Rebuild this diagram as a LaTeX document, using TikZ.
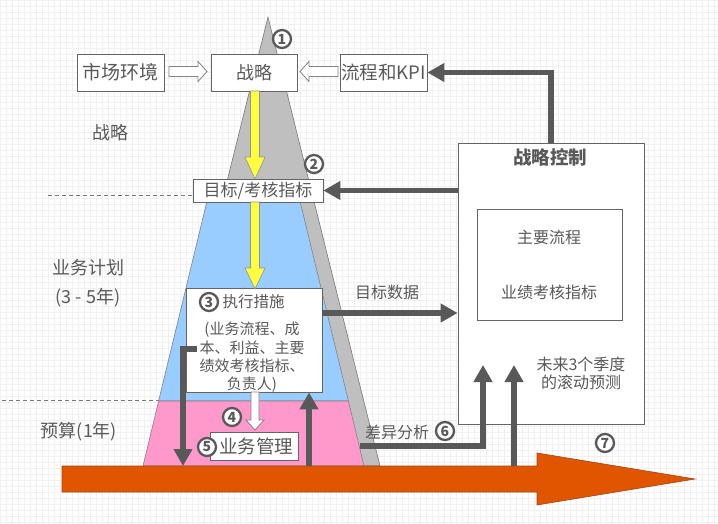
\documentclass[tikz,border=0pt]{standalone}
\usepackage{fontspec}
\setmainfont{Noto Sans CJK SC}
\usetikzlibrary{arrows.meta}
\definecolor{txt}{RGB}{89,89,89}
\definecolor{bd}{RGB}{100,100,100}
\definecolor{dk}{RGB}{89,89,89}
\definecolor{tri}{RGB}{191,191,191}
\definecolor{trid}{RGB}{120,120,120}
\definecolor{blu}{RGB}{153,204,255}
\definecolor{pnk}{RGB}{255,153,204}
\definecolor{yel}{RGB}{255,255,64}
\definecolor{org}{RGB}{224,86,0}
\definecolor{orgd}{RGB}{160,70,20}
\definecolor{gridc}{RGB}{240,240,240}
\newcommand{\fs}[1]{\fontsize{#1}{#1}\selectfont}
\begin{document}
\begin{tikzpicture}[x=1pt,y=-1pt,
  box/.style={draw=bd, fill=white, line width=0.8pt, inner sep=0pt, text=txt},
  lbl/.style={text=txt, inner sep=0pt},
  num/.style={circle, draw=dk, line width=2.3pt, fill=white, inner sep=0pt, minimum size=18pt, text=dk, font=\fs{14}\bfseries},
  fat/.style={draw=dk, line width=5.5pt, -{Triangle[length=17pt,width=18pt]}},
  hollow/.style={draw=bd!80, fill=white, line width=0.8pt, line join=miter},
  yelarrow/.style={draw=bd!70, fill=yel, line width=0.6pt},
  dashline/.style={draw=trid, line width=0.7pt, dash pattern=on 4pt off 3pt},
]
\useasboundingbox (0,0) rectangle (718,524);
\fill[white] (0,0) rectangle (718,524);
\foreach \i in {0,6,...,714} \draw[gridc, line width=0.4pt] (\i,0) -- (\i,524);
\foreach \j in {0,6,...,522} \draw[gridc, line width=0.4pt] (0,\j) -- (718,\j);

% pyramid
\filldraw[fill=tri, draw=trid, line width=0.6pt] (268,17) -- (380,466) -- (156,466) -- cycle;
\filldraw[fill=blu, draw=bd!80, line width=0.6pt] (209.2,192) -- (297.8,192) -- (348.4,401) -- (158.6,401) -- cycle;
\filldraw[fill=pnk, draw=bd!80, line width=0.6pt] (158.6,401) -- (348.4,401) -- (364,466) -- (143,466) -- cycle;

% dashed separators
\coordinate (d1) at (48,195);
\coordinate (d2) at (2,400);
\coordinate (d3) at (158,400);
\draw[dashline] (d2) -- (d3);

% big orange arrow
\filldraw[fill=org, draw=orgd, line width=0.6pt] (62,466) -- (537,466) -- (537,453) -- (695,479) -- (537,505) -- (537,492) -- (62,492) -- cycle;

% top row
\node[box, minimum width=87pt, minimum height=37pt, font=\fs{19}] (mkt) at (120.5,72.5) {市场环境};
\node[box, minimum width=86pt, minimum height=37pt, font=\fs{18}] (zl) at (254,72.5) {战略};
\node[box, minimum width=87pt, minimum height=37pt, font=\fs{18.5}] (kpi) at (383.5,72.5) {流程和KPI};
\draw[hollow] (169,66.5) -- (198,66.5) -- (198,61.5) -- (207,71.5) -- (198,81.5) -- (198,76.5) -- (169,76.5) -- cycle;
\draw[hollow] (338,66.5) -- (309,66.5) -- (309,61.5) -- (300,71.5) -- (309,81.5) -- (309,76.5) -- (338,76.5) -- cycle;

% target box
\draw[dashline] (d1) -- (193,195);
\node[box, minimum width=130pt, minimum height=23pt, font=\fs{17}] (mb) at (258,190.5) {目标/考核指标};

% measures box
\node[box, minimum width=136pt, minimum height=104pt] (zx) at (254,340) {};
\node[lbl, font=\fs{15.5}] (zxt) at (253.5,302) {执行措施};
\node[lbl, font=\fs{15}, align=center] (zxd) at (252,357) {(业务流程、成\\[3pt]本、利益、主要\\[3pt]绩效考核指标、\\[3pt]负责人)};

% business management
\node[box, minimum width=88pt, minimum height=28pt, font=\fs{18.5}] (yw) at (254,446) {\hspace*{4pt}业务管理};

% strategy control
\node[box, minimum width=186pt, minimum height=281pt] (sc) at (551,283.5) {};
\node[lbl, font=\fs{18.5}\bfseries] (sct) at (550,157) {战略控制};
\node[box, minimum width=145pt, minimum height=111pt] (in) at (549.5,264.5) {};
\node[lbl, font=\fs{16}] (in1) at (549,237) {主要流程};
\node[lbl, font=\fs{16}] (in2) at (549,292) {业绩考核指标};
\node[lbl, font=\fs{16}, align=center] (fc) at (581,373) {未来3个季度\\[2pt]的滚动预测};

% yellow and white arrows
\draw[yelarrow] (250.5,91) -- (259.5,91) -- (259.5,157) -- (265,157) -- (255,179) -- (245,157) -- (250.5,157) -- cycle;
\draw[yelarrow] (250.5,202) -- (259.5,202) -- (259.5,268) -- (265,268) -- (255,289) -- (245,268) -- (250.5,268) -- cycle;
\draw[hollow] (251,392) -- (259,392) -- (259,420) -- (264,420) -- (255,430) -- (246,420) -- (251,420) -- cycle;

% left labels
\node[lbl, font=\fs{18}] (l1) at (110,133) {战略};
\node[lbl, font=\fs{18}] (l2) at (88,268) {业务计划};
\node[lbl, font=\fs{18}] (l3) at (88,298) {(3 - 5年)};
\node[lbl, font=\fs{18}] (l4) at (79,432) {预算(1年)};
\node[lbl, font=\fs{16}] (l5) at (387,292) {目标数据};
\node[lbl, font=\fs{16}] (l6) at (397,432) {差异分析};

% coordinates for connectors
\coordinate (dl) at (197,349);
\coordinate (o1) at (183,466);
\coordinate (o2) at (309,466);
\coordinate (o3) at (514,466);
\coordinate (cy) at (360,446);
\coordinate (t6) at (483,365);
\coordinate (t7) at (514,365);
\coordinate (ty) at (0,313);

% dark arrows
\draw[fat] (sc.north) |- (kpi.east);
\draw[fat] (sc.west |- mb.east) -- (mb.east);
\draw[fat] (zx.east |- ty) -- (sc.west |- ty);
\draw[fat] (dl) -| (o1);
\draw[fat] (o2) -- (zx.south -| o2);
\draw[fat] (cy) -| (t6);
\draw[fat] (o3) -- (t7);

% numbers
\node[num] (n1) at (282,39) {1};
\node[num] (n2) at (314,164) {2};
\node[num] (n3) at (209,302) {3};
\node[num] (n4) at (232,417) {4};
\node[num] (n5) at (207,447) {5};
\node[num] (n6) at (445,431) {6};
\node[num] (n7) at (605,443) {7};
\end{tikzpicture}
\end{document}
